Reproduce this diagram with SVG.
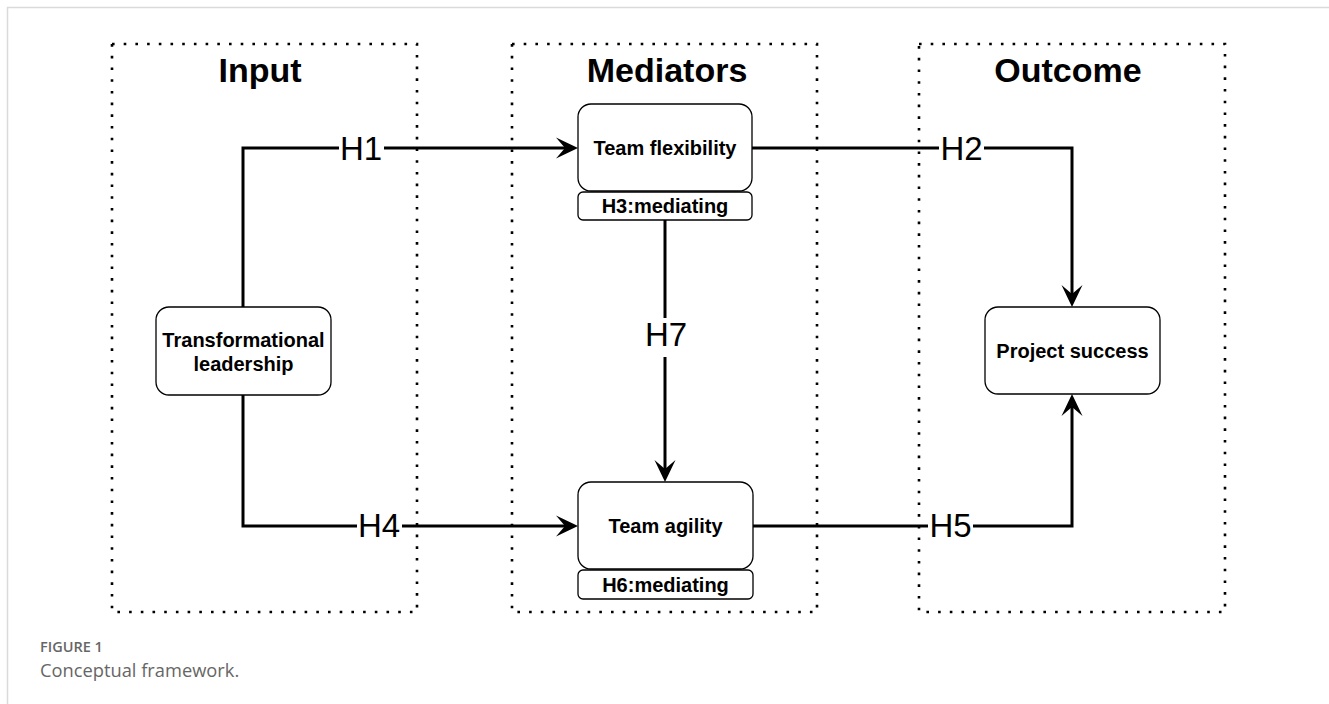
<svg xmlns="http://www.w3.org/2000/svg" width="1329" height="704" viewBox="0 0 1329 704">
  <style>
    .frame { fill: none; stroke: #dadada; stroke-width: 1.5; }
    .group { fill: none; stroke: #000; stroke-width: 2.6; stroke-dasharray: 2.6 9.1; }
    .title { font-family: "Liberation Sans", Arial, sans-serif; font-weight: bold; font-size: 34px; fill: #000; text-anchor: middle; }
    .node { fill: #fff; stroke: #000; stroke-width: 1.3; }
    .ntext { font-family: "Liberation Sans", Arial, sans-serif; font-weight: bold; font-size: 20px; fill: #000; text-anchor: middle; }
    .edge { fill: none; stroke: #000; stroke-width: 3; }
    .lbg { fill: #fff; stroke: none; }
    .ltext { font-family: "Liberation Sans", Arial, sans-serif; font-size: 33px; fill: #000; text-anchor: middle; }
    .caph { font-family: "Open Sans", "Liberation Sans", sans-serif; font-weight: 600; font-size: 14.5px; fill: #666; }
    .capt { font-family: "Open Sans", "Liberation Sans", sans-serif; font-size: 18.3px; fill: #666; }
  </style>
  <defs>
    <marker id="arrow" viewBox="-23 -12 24 24" markerWidth="24" markerHeight="24" refX="-13" refY="0" orient="auto" markerUnits="userSpaceOnUse">
      <path d="M0,0 L-22,-10.5 L-13,0 L-22,10.5 Z" fill="#000"/>
    </marker>
  </defs>

  <rect width="1329" height="704" fill="#fff"/>
  <path class="frame" d="M7.5,704 V7.5 H1329"/>

  <!-- dotted column containers -->
  <g id="col-input">
    <rect class="group" x="112" y="44" width="305" height="568"/>
    <text class="title" x="260" y="82">Input</text>
  </g>
  <g id="col-mediators">
    <rect class="group" x="512" y="44" width="305" height="568"/>
    <text class="title" x="667" y="82">Mediators</text>
  </g>
  <g id="col-outcome">
    <rect class="group" x="919" y="44" width="306" height="568"/>
    <text class="title" x="1068" y="82">Outcome</text>
  </g>

  <!-- connectors -->
  <g id="connectors">
    <path class="edge" d="M243,307 V148 H565" marker-end="url(#arrow)"/>
    <path class="edge" d="M243,395 V526 H565" marker-end="url(#arrow)"/>
    <path class="edge" d="M752,148 H1072 V294" marker-end="url(#arrow)"/>
    <path class="edge" d="M753,526 H1072 V407" marker-end="url(#arrow)"/>
    <path class="edge" d="M665,220 V469" marker-end="url(#arrow)"/>

    <rect class="lbg" x="339" y="132" width="45" height="33"/>
    <text class="ltext" x="361" y="160">H1</text>
    <rect class="lbg" x="939" y="132" width="45" height="33"/>
    <text class="ltext" x="961.5" y="160">H2</text>
    <rect class="lbg" x="357" y="510" width="45" height="33"/>
    <text class="ltext" x="379" y="537">H4</text>
    <rect class="lbg" x="928" y="510" width="45" height="33"/>
    <text class="ltext" x="950.5" y="537">H5</text>
    <rect class="lbg" x="643" y="318" width="46" height="39"/>
    <text class="ltext" x="666" y="346">H7</text>
  </g>

  <!-- nodes -->
  <g id="transformational-leadership">
    <rect class="node" x="156" y="307" width="175" height="88" rx="13"/>
    <text class="ntext" x="243.5" y="347">Transformational</text>
    <text class="ntext" x="243.5" y="371">leadership</text>
  </g>
  <g id="team-flexibility">
    <rect class="node" x="578" y="104" width="174" height="87" rx="13"/>
    <text class="ntext" x="665" y="154.5">Team flexibility</text>
  </g>
  <g id="h3-mediating">
    <rect class="node" x="578" y="192" width="174" height="28" rx="5"/>
    <text class="ntext" x="665" y="213">H3:mediating</text>
  </g>
  <g id="team-agility">
    <rect class="node" x="578" y="482" width="175" height="87" rx="13"/>
    <text class="ntext" x="665.5" y="532.5">Team agility</text>
  </g>
  <g id="h6-mediating">
    <rect class="node" x="578" y="570" width="175" height="29" rx="5"/>
    <text class="ntext" x="665.5" y="591.5">H6:mediating</text>
  </g>
  <g id="project-success">
    <rect class="node" x="985" y="307" width="175" height="87" rx="13"/>
    <text class="ntext" x="1072.5" y="357.5">Project success</text>
  </g>

  <!-- caption -->
  <g id="caption">
    <text class="caph" x="40" y="652">FIGURE 1</text>
    <text class="capt" x="40" y="677">Conceptual framework.</text>
  </g>
</svg>
